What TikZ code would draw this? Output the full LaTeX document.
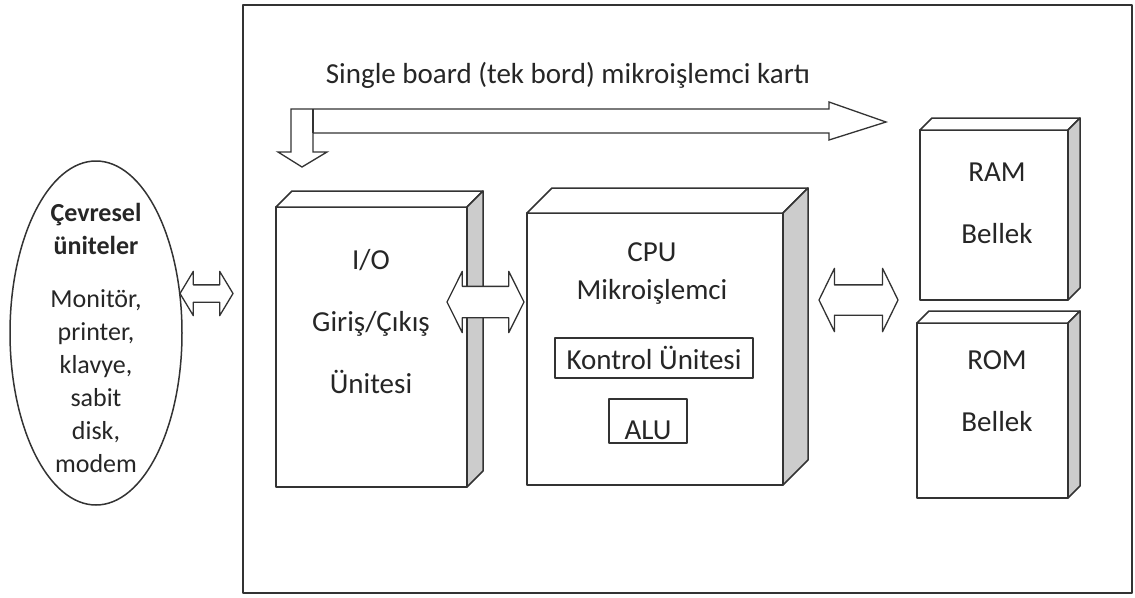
\documentclass[tikz,border=0pt]{standalone}
\usepackage{fontspec}
\setmainfont{Carlito}
\usetikzlibrary{shapes.geometric, shapes.arrows, calc}

\begin{document}
\begin{tikzpicture}[
  x=1pt, y=-1pt,
  color=black!80, line width=1.5pt, line join=round,
  txt/.style={text=black!85, font=\fontsize{29}{62}\selectfont, align=center},
  unit/.style={draw, fill=white, outer sep=0pt, inner sep=0pt},
  perif/.style={ellipse, draw, minimum width=172pt, minimum height=344pt},
  twoway/.style={double arrow, draw, fill=white, inner xsep=0pt, line width=1.3pt}
]
\useasboundingbox (0,0) rectangle (1135,597);

% board frame and peripherals
\node[draw, line width=2pt, outer sep=0pt, minimum width=889pt, minimum height=588pt] (board) at (687.5,299) {};
\node[perif] (perif) at (96,333) {};

% units (front faces)
\node[unit, minimum width=191pt, minimum height=280pt] (io) at (371.5,347) {};
\node[unit, minimum width=256pt, minimum height=272pt] (cpu) at (655,349) {};
\node[unit, minimum width=148pt, minimum height=170pt] (ram) at (994,215) {};
\node[unit, minimum width=151pt, minimum height=175pt] (rom) at (992.5,410.5) {};

% top and side faces
\foreach \b/\d in {io/16, cpu/25, ram/12, rom/12} {
  \draw[fill=white] (\b.north west) -- ++(\d,-\d) -- ($(\b.north east)+(\d,-\d)$) -- (\b.north east) -- cycle;
  \draw[fill=gray!40] (\b.north east) -- ++(\d,-\d) -- ($(\b.south east)+(\d,-\d)$) -- (\b.south east) -- cycle;
}

% inside the CPU
\node[unit, txt, minimum width=198pt, minimum height=40pt] (ctrl) at (654,358) {Kontrol Ünitesi};
\node[unit, txt, minimum width=78pt, minimum height=44pt, text height=36pt, text depth=0pt] (alu) at (648,421) {ALU};

% system bus
\draw[fill=white, line width=1.3pt, line join=miter] (291,109) -- (829,109) -- (829,102) -- (886,122) -- (829,140) -- (829,133)
  -- (313,133) -- (313,152) -- (327,152) -- (302,167) -- (278,152) -- (291,152) -- cycle;
\draw[line width=1.3pt] (313,109) -- (313,133);

% links
\node[twoway, minimum height=53pt, inner ysep=8pt, double arrow head extend=13.5pt, double arrow tip angle=118] (lnkA) at (206.5,293.5) {};
\node[twoway, minimum height=77pt, inner ysep=15pt, double arrow head extend=15pt, double arrow tip angle=127] (lnkB) at (485.5,302) {};
\node[twoway, minimum height=79pt, inner ysep=14.5pt, double arrow head extend=16.5pt, double arrow tip angle=128] (lnkC) at (858.5,300) {};

% labels
\node[txt] (title) at (568,75) {Single board (tek bord) mikroişlemci kartı};
\node[txt, font=\fontsize{26}{33}\selectfont] (perifT) at (96,338)
  {\textbf{Çevresel}\\\textbf{üniteler}\\[20pt]Monitör,\\printer,\\klavye,\\sabit\\disk,\\modem};
\node[txt] (ioT) at (371,322) {I/O\\Giriş/Çıkış\\Ünitesi};
\node[txt, font=\fontsize{29}{38}\selectfont] (cpuT) at (652,274) {CPU\\Mikroişlemci};
\node[txt] (ramT) at (997,203) {RAM\\Bellek};
\node[txt] (romT) at (997,391) {ROM\\Bellek};
\end{tikzpicture}
\end{document}
